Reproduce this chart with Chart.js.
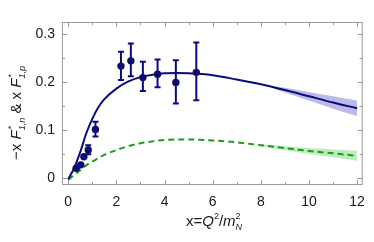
<!DOCTYPE html>
<html>
<head>
<meta charset="utf-8">
<script src="https://cdn.jsdelivr.net/npm/chart.js@4.4.0/dist/chart.umd.min.js"></script>
<style>
  html, body { margin: 0; padding: 0; background: #fff; }
  #wrap { width: 374px; height: 242px; }
</style>
</head>
<body>
<div id="wrap"><canvas id="chart" width="374" height="242"></canvas></div>
<script>
// ============================================
// Data
// ============================================
const curveX = [0, 0.25, 0.5, 0.75, 1, 1.25, 1.5, 2, 2.5, 3, 3.5, 4, 4.5, 5, 6, 7, 8, 9, 10, 11, 12];
const protonCurve = [-0.002, 0.022, 0.055, 0.094, 0.124, 0.148, 0.165, 0.187, 0.202, 0.211, 0.216, 0.219, 0.2195, 0.219, 0.215, 0.206, 0.196, 0.184, 0.171, 0.158, 0.146];
const neutronCurve = [-0.003, 0.007, 0.017, 0.027, 0.035, 0.042, 0.049, 0.059, 0.067, 0.073, 0.077, 0.080, 0.081, 0.081, 0.079, 0.075, 0.069, 0.063, 0.057, 0.052, 0.047];

const protonBandX = [8.5, 9, 10, 11, 12];
const protonBandHi = [0.192, 0.189, 0.180, 0.171, 0.162];
const protonBandLo = [0.188, 0.179, 0.162, 0.145, 0.130];

const neutronBandX = [8, 9, 10, 11, 12];
const neutronBandHi = [0.071, 0.067, 0.063, 0.060, 0.0575];
const neutronBandLo = [0.067, 0.059, 0.051, 0.044, 0.0365];

const dataX = [0.33, 0.52, 0.65, 0.83, 1.13, 2.19, 2.6, 3.10, 3.71, 4.47, 5.32];
const dataY = [0.021, 0.028, 0.045, 0.059, 0.102, 0.234, 0.245, 0.210, 0.217, 0.200, 0.221];
const errHi = [0.023, 0.030, 0.047, 0.069, 0.118, 0.264, 0.281, 0.243, 0.248, 0.246, 0.283];
const errLo = [0.019, 0.026, 0.043, 0.050, 0.087, 0.205, 0.213, 0.182, 0.190, 0.156, 0.163];

const xTicks = [0, 2, 4, 6, 8, 10, 12];
const yTicks = [0, 0.1, 0.2, 0.3];

const pts = (xs, ys) => xs.map((x, i) => ({ x: x, y: ys[i] }));

const NAVY = '#0b0b80';
const DOT = '#0e0e62';
const GREEN = '#1e9a1e';
const FONT = '"Liberation Sans", Arial, sans-serif';

// ============================================
// Helpers for styled text (super/subscripts)
// ============================================
function drawRuns(ctx, runs, size) {
    // measure
    let total = 0;
    runs.forEach(r => {
        ctx.font = (r.it ? 'italic ' : '') + Math.round(size * (r.s || 1)) + 'px ' + FONT;
        r.w = ctx.measureText(r.t).width;
        if (!r.stack) total += r.w;
    });
    let x = -total / 2;
    runs.forEach(r => {
        ctx.font = (r.it ? 'italic ' : '') + Math.round(size * (r.s || 1)) + 'px ' + FONT;
        ctx.fillText(r.t, x + (r.dx || 0), r.dy || 0);
        if (!r.stack) x += r.w;
    });
}

// ============================================
// Frame, inward ticks, error bars, axis titles
// ============================================
const framePlugin = {
    id: 'frame',
    afterDatasetsDraw(chart) {
        const ctx = chart.ctx;
        const xs = chart.scales.x, ys = chart.scales.y;
        ctx.save();
        ctx.strokeStyle = NAVY;
        ctx.lineWidth = 2;
        dataX.forEach((x, i) => {
            const px = xs.getPixelForValue(x);
            const top = ys.getPixelForValue(errHi[i]);
            const bot = ys.getPixelForValue(errLo[i]);
            ctx.beginPath();
            ctx.moveTo(px, top); ctx.lineTo(px, bot);
            ctx.moveTo(px - 3, top); ctx.lineTo(px + 3, top);
            ctx.moveTo(px - 3, bot); ctx.lineTo(px + 3, bot);
            ctx.stroke();
        });
        ctx.restore();
    },
    afterDraw(chart) {
        const ctx = chart.ctx;
        const a = chart.chartArea;
        const xs = chart.scales.x, ys = chart.scales.y;
        ctx.save();
        ctx.strokeStyle = '#9a9a9a';
        ctx.lineWidth = 1;
        ctx.strokeRect(a.left + 0.5, a.top + 0.5, a.right - a.left - 1, a.bottom - a.top - 1);
        ctx.beginPath();
        for (let v = 0; v <= 12; v += 1) {
            const px = Math.round(xs.getPixelForValue(v)) + 0.5;
            const len = v % 2 === 0 ? 5 : 3;
            ctx.moveTo(px, a.bottom); ctx.lineTo(px, a.bottom - len);
            ctx.moveTo(px, a.top); ctx.lineTo(px, a.top + len);
        }
        for (let k = 0; k <= 6; k++) {
            const py = Math.round(ys.getPixelForValue(k * 0.05)) + 0.5;
            const len = k % 2 === 0 ? 5 : 3;
            ctx.moveTo(a.left, py); ctx.lineTo(a.left + len, py);
            ctx.moveTo(a.right, py); ctx.lineTo(a.right - len, py);
        }
        ctx.stroke();

        // axis titles
        ctx.fillStyle = '#1a1a1a';
        ctx.textBaseline = 'alphabetic';
        ctx.textAlign = 'left';
        const S = 15;
        ctx.save();
        ctx.translate(214, 226);
        drawRuns(ctx, [
            { t: 'x=' },
            { t: 'Q', it: true },
            { t: '2', s: 0.62, dy: -7 },
            { t: '/' },
            { t: 'm', it: true },
            { t: '2', s: 0.62, dy: -7, stack: true },
            { t: 'N', it: true, s: 0.62, dy: 4 }
        ], S);
        ctx.restore();

        ctx.save();
        ctx.translate(21, 113);
        ctx.rotate(-Math.PI / 2);
        drawRuns(ctx, [
            { t: '\u2212x ' },
            { t: 'F', it: true },
            { t: '*', s: 0.6, dy: -7, stack: true, dx: 1 },
            { t: '1,n', s: 0.62, dy: 4, it: true },
            { t: ' & x ' },
            { t: 'F', it: true },
            { t: '*', s: 0.6, dy: -7, stack: true, dx: 1 },
            { t: '1,p', s: 0.62, dy: 4, it: true }
        ], S);
        ctx.restore();
        ctx.restore();
    }
};

// ============================================
// Chart
// ============================================
new Chart(document.getElementById('chart'), {
    type: 'scatter',
    data: {
        datasets: [
            { data: pts(protonBandX, protonBandHi), showLine: true, pointRadius: 0, borderWidth: 0,
              borderColor: 'rgba(0,0,0,0)', backgroundColor: 'rgba(120,120,205,0.5)', fill: '+1', order: 10, tension: 0.3 },
            { data: pts(protonBandX, protonBandLo), showLine: true, pointRadius: 0, borderWidth: 0,
              borderColor: 'rgba(0,0,0,0)', fill: false, order: 10, tension: 0.3 },
            { data: pts(neutronBandX, neutronBandHi), showLine: true, pointRadius: 0, borderWidth: 0,
              borderColor: 'rgba(0,0,0,0)', backgroundColor: 'rgba(120,220,120,0.5)', fill: '+1', order: 10, tension: 0.3 },
            { data: pts(neutronBandX, neutronBandLo), showLine: true, pointRadius: 0, borderWidth: 0,
              borderColor: 'rgba(0,0,0,0)', fill: false, order: 10, tension: 0.3 },
            { data: pts(curveX, neutronCurve), showLine: true, pointRadius: 0, borderColor: GREEN,
              borderWidth: 2, borderDash: [6, 4], cubicInterpolationMode: 'monotone', order: 2 },
            { data: pts(curveX, protonCurve), showLine: true, pointRadius: 0, borderColor: NAVY,
              borderWidth: 2, cubicInterpolationMode: 'monotone', order: 1 },
            { data: pts(dataX, dataY), pointRadius: 3.7, pointBackgroundColor: DOT,
              pointBorderColor: DOT, pointBorderWidth: 0, order: 0 }
        ]
    },
    options: {
        responsive: false,
        animation: false,
        events: [],
        layout: { padding: { top: 22, right: 6, left: 0, bottom: 0 } },
        plugins: { legend: { display: false }, tooltip: { enabled: false } },
        scales: {
            x: {
                type: 'linear', min: -0.26, max: 12.23,
                afterBuildTicks: s => { s.ticks = xTicks.map(v => ({ value: v })); },
                afterFit: s => { s.height = 57; },
                grid: { display: false, drawTicks: false },
                border: { display: false },
                ticks: { padding: 9, color: '#1a1a1a', font: { family: FONT, size: 14 }, maxRotation: 0 }
            },
            y: {
                min: -0.014, max: 0.326,
                afterBuildTicks: s => { s.ticks = yTicks.map(v => ({ value: v })); },
                afterFit: s => { s.width = 62; },
                grid: { display: false, drawTicks: false },
                border: { display: false },
                ticks: { padding: 7, color: '#1a1a1a', font: { family: FONT, size: 14 },
                         callback: v => (v === 0 ? '0' : v.toFixed(1)) }
            }
        }
    },
    plugins: [framePlugin]
});
</script>
</body>
</html>
